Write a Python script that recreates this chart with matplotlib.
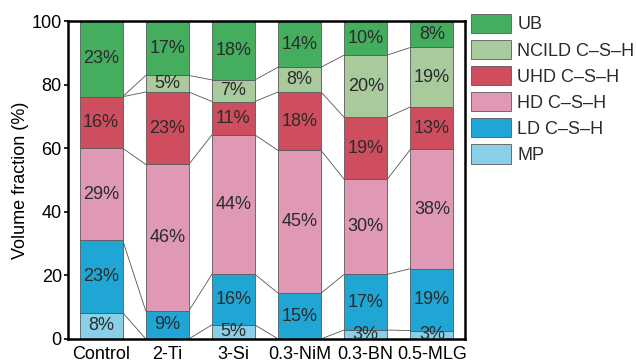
import matplotlib
matplotlib.use("Agg")
import matplotlib.pyplot as plt
import numpy as np

plt.rcParams['font.family'] = ['Liberation Sans', 'DejaVu Sans']

samples = ["Control", "2-Ti", "3-Si", "0.3-NiM", "0.3-BN", "0.5-MLG"]
phases = ["MP", "LD C–S–H", "HD C–S–H", "UHD C–S–H", "NCILD C–S–H", "UB"]
colors = ["#88cfe7", "#1fa6d4", "#df99b5", "#ce4d5f", "#a8ca9d", "#44ad5e"]

# segment heights (bottom to top)
mp = [8.3, 0.0, 4.4, 0.0, 2.8, 2.6]
ld = [22.8, 8.8, 15.9, 14.4, 17.5, 19.5]
hd = [28.9, 46.1, 43.9, 44.9, 29.9, 37.5]
uhd = [16.2, 22.8, 10.5, 18.4, 19.5, 13.4]
ncild = [0.0, 5.2, 6.8, 7.8, 19.6, 18.7]
ub = [23.8, 17.1, 18.5, 14.5, 10.7, 8.3]

# printed percentages
mp_lab = ["8%", "", "5%", "", "3%", "3%"]
ld_lab = ["23%", "9%", "16%", "15%", "17%", "19%"]
hd_lab = ["29%", "46%", "44%", "45%", "30%", "38%"]
uhd_lab = ["16%", "23%", "11%", "18%", "19%", "13%"]
ncild_lab = ["", "5%", "7%", "8%", "20%", "19%"]
ub_lab = ["23%", "17%", "18%", "14%", "10%", "8%"]

values = np.array([mp, ld, hd, uhd, ncild, ub])
labels = [mp_lab, ld_lab, hd_lab, uhd_lab, ncild_lab, ub_lab]

fig = plt.figure(figsize=(6.36, 3.64), dpi=100)
ax = fig.add_axes([0.107, 0.069, 0.624, 0.873])

x = np.arange(len(samples))
w = 0.65
bottoms = np.zeros(len(samples))
handles = []
for i in range(len(phases)):
    b = ax.bar(x, values[i], w, bottom=bottoms, color=colors[i],
               edgecolor="#5a5a5a", linewidth=0.6, label=phases[i], zorder=2)
    handles.append(b)
    for j in range(len(samples)):
        if labels[i][j]:
            ax.text(x[j], bottoms[j] + values[i][j] / 2, labels[i][j],
                    ha="center", va="center", fontsize=13, color="#2b2b2b",
                    clip_on=True, zorder=3)
    bottoms = bottoms + values[i]

# connecting lines between bars
cum = np.cumsum(values, axis=0)
for k in range(len(phases) - 1):
    for j in range(len(samples) - 1):
        ax.plot([x[j] + w / 2, x[j + 1] - w / 2], [cum[k][j], cum[k][j + 1]],
                color="#555555", lw=0.6, zorder=1)

ax.set_xlim(-0.5, 5.5)
ax.set_ylim(0, 100)
ax.set_yticks([0, 20, 40, 60, 80, 100])
ax.set_xticks(x)
ax.set_xticklabels(samples)
ax.tick_params(axis="x", length=0, pad=5, labelsize=13)
ax.tick_params(axis="y", length=3, width=1.2, pad=1.5, labelsize=13)
for s in ax.spines.values():
    s.set_linewidth(1.8)
ax.set_ylabel("Volume fraction (%)", fontsize=13, labelpad=2)

leg = ax.legend(handles[::-1], phases[::-1], loc="upper left",
                bbox_to_anchor=(0.741, 0.962), bbox_transform=fig.transFigure,
                frameon=False, fontsize=13, handlelength=2.2, handleheight=1.25,
                labelspacing=0.36, handletextpad=0.35, borderpad=0, borderaxespad=0)
for t in leg.get_texts():
    t.set_color("#2b2b2b")

plt.savefig("out.png", dpi=100)
